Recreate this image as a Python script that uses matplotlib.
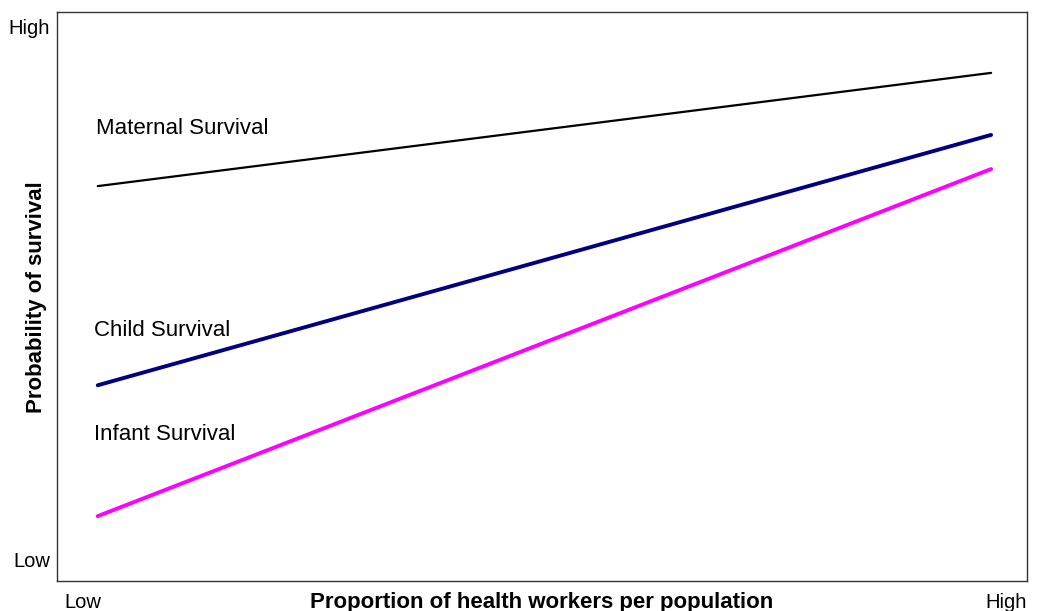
import matplotlib
matplotlib.use("Agg")
import matplotlib.pyplot as plt

plt.rcParams['font.family'] = ['Liberation Sans', 'DejaVu Sans']

# data (relative units, 0-100)
x_ends = [4.2, 96.3]
maternal = [69.4, 89.3]
child = [34.4, 78.4]
infant = [11.4, 72.4]
series_names = ["Maternal Survival", "Child Survival", "Infant Survival"]
label_pos = [(4.0, 79.6), (3.8, 44.1), (3.8, 25.7)]
ytick_vals = [3.8, 97.5]
ytick_labels = ["Low", "High"]
xtick_labels = ["Low", "High"]

fig = plt.figure(figsize=(10.38, 6.11), dpi=100)
ax = fig.add_axes([57/1038, 1-581/611, 970/1038, 569/611])

ax.plot(x_ends, maternal, color='black', lw=1.6, solid_capstyle='round')
ax.plot(x_ends, child, color='#000080', lw=2.8, solid_capstyle='round')
ax.plot(x_ends, infant, color='#FF00FF', lw=2.8, solid_capstyle='round')

for name, (lx, ly) in zip(series_names, label_pos):
    ax.text(lx, ly, name, fontsize=16, va='center', ha='left')

ax.set_xlim(0, 100)
ax.set_ylim(0, 100)
ax.set_yticks(ytick_vals)
ax.set_yticklabels(ytick_labels, fontsize=14.5)
ax.tick_params(axis='y', length=0, pad=5)
ax.set_xticks([])

ax.text(0.008, -0.037, xtick_labels[0], transform=ax.transAxes, fontsize=14.5, ha='left', va='center')
ax.text(1.0, -0.037, xtick_labels[1], transform=ax.transAxes, fontsize=14.5, ha='right', va='center')
ax.text(0.5, -0.037, "Proportion of health workers per population", transform=ax.transAxes,
        fontsize=16, fontweight='bold', ha='center', va='center')

fig.text(37/1038, 1-297/611, "Probability of survival", fontsize=16, fontweight='bold',
         rotation=90, ha='center', va='center')

for s in ax.spines.values():
    s.set_color('#333333')
    s.set_linewidth(1.0)

fig.savefig("out.png", dpi=100)
